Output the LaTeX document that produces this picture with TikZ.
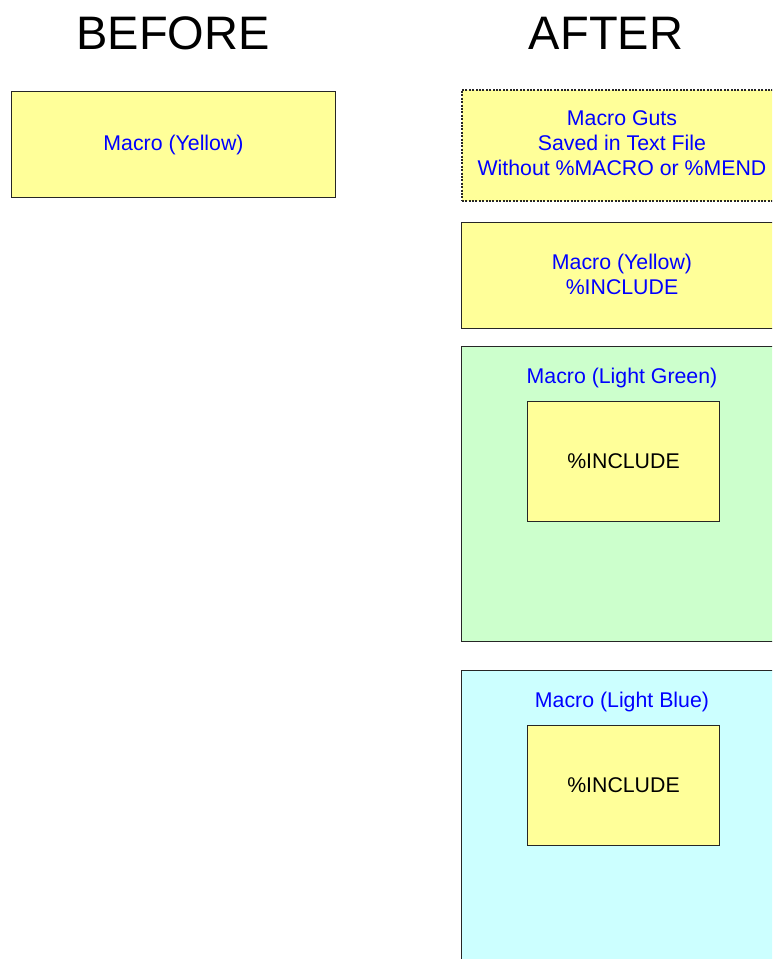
\documentclass[tikz,border=0pt]{standalone}
\usepackage{fontspec}
\setmainfont{Liberation Sans}
\definecolor{myyellow}{HTML}{FFFF99}
\definecolor{mygreen}{HTML}{CCFFCC}
\definecolor{myblue}{HTML}{CCFFFF}
\definecolor{mytext}{HTML}{0000FF}
\begin{document}
\begin{tikzpicture}[x=1pt,y=-1pt,
  box/.style={draw=black!85,line width=1pt,anchor=north west,inner sep=0pt},
  yel/.style={box,fill=myyellow},
  lbl/.style={text=mytext,font=\fontsize{21.3}{25}\selectfont,align=center,inner sep=0pt},
  inc/.style={text=black,font=\fontsize{21.3}{25}\selectfont,inner sep=0pt},
  head/.style={font=\fontsize{47}{50}\selectfont,inner sep=0pt}]
\clip (0,0) rectangle (772,959);
\fill[white] (0,0) rectangle (772,959);
% headings
\node[head] (hbefore) at (173,33) {BEFORE};
\node[head] (hafter) at (606,33) {AFTER};
% before
\node[yel,minimum width=324pt,minimum height=106pt] (before) at (11,91) {};
\node[lbl] (beforet) at (before.center) {Macro (Yellow)};
% guts
\node[box,fill=myyellow,dash pattern=on 2pt off 1.4pt,line width=1.7pt,minimum width=340pt,minimum height=111pt] (guts) at (461,89) {};
\node[lbl] (gutst) at (622,143) {Macro Guts\\Saved in Text File\\Without \%MACRO or \%MEND};
% yellow include
\node[yel,minimum width=340pt,minimum height=106pt] (yinc) at (461,222) {};
\node[lbl] (yinct) at (622,274.5) {Macro (Yellow)\\\%INCLUDE};
% green
\node[box,fill=mygreen,minimum width=340pt,minimum height=295pt] (green) at (461,346) {};
\node[lbl] (greent) at (622,378) {Macro (Light Green)};
\node[yel,minimum width=192pt,minimum height=120pt] (ginc) at (527,401) {};
\node[inc] (ginct) at (ginc.center) {\%INCLUDE};
% blue
\node[box,fill=myblue,minimum width=340pt,minimum height=320pt] (blue) at (461,670) {};
\node[lbl] (bluet) at (622,702) {Macro (Light Blue)};
\node[yel,minimum width=192pt,minimum height=120pt] (binc) at (527,725) {};
\node[inc] (binct) at (binc.center) {\%INCLUDE};
\end{tikzpicture}
\end{document}
